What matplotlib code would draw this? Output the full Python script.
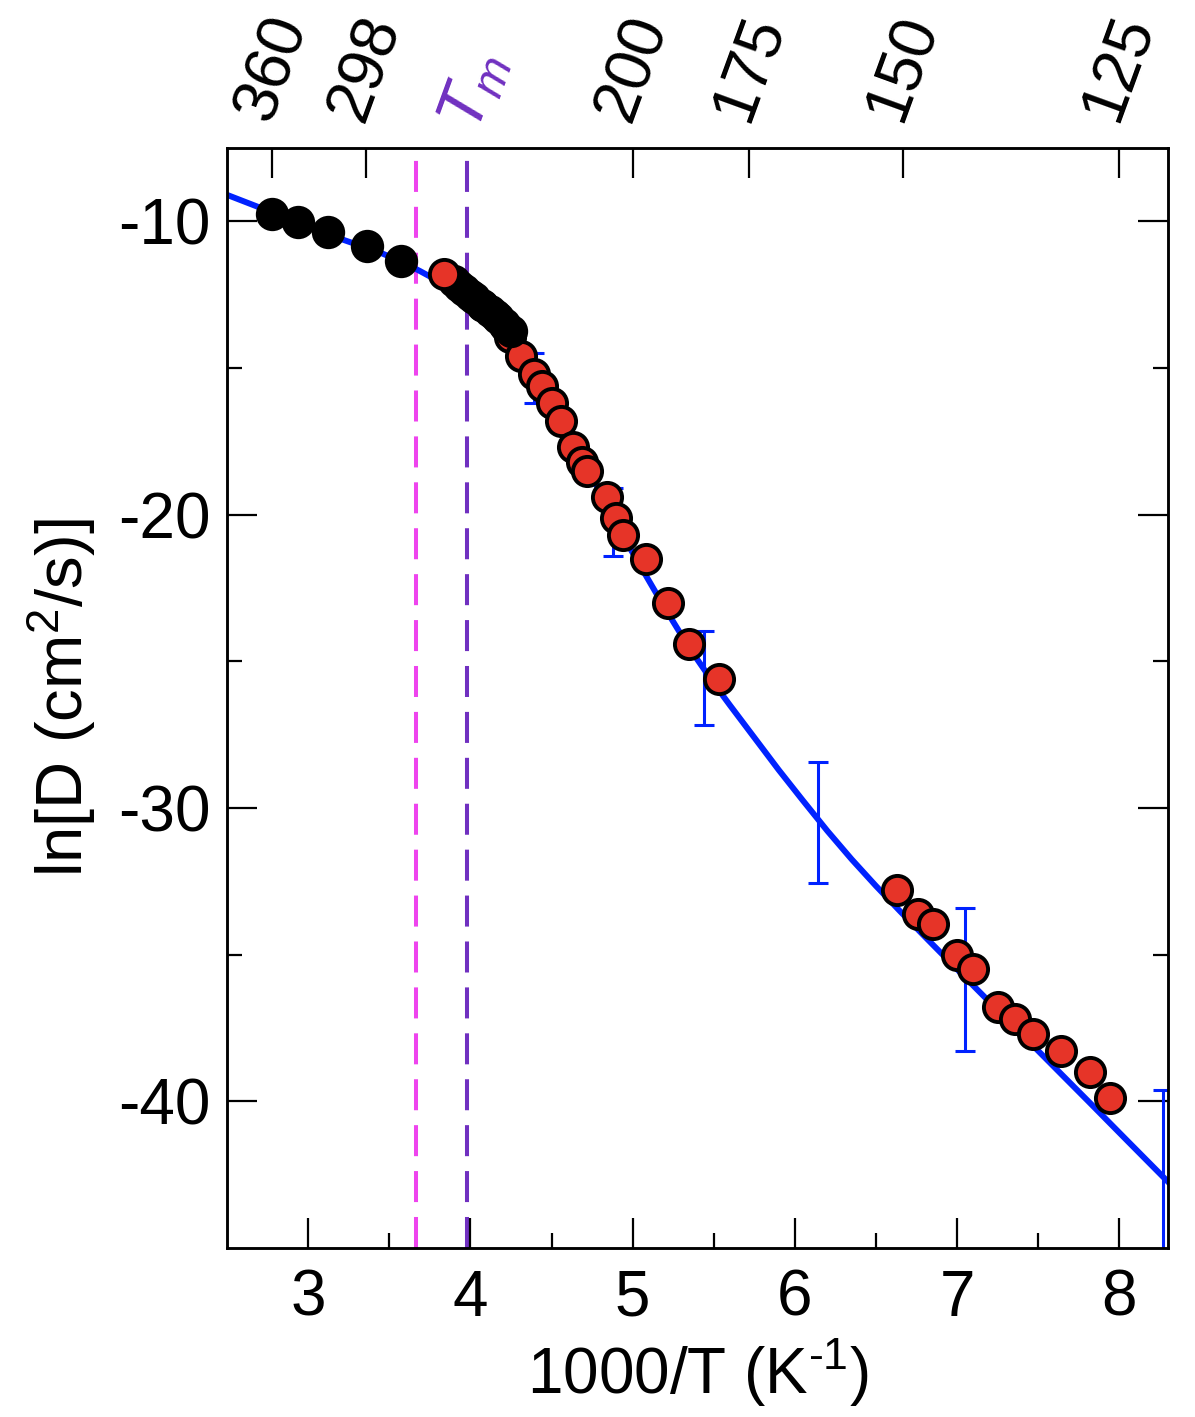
import matplotlib
matplotlib.use("Agg")
import matplotlib.pyplot as plt
from matplotlib.ticker import NullLocator
import numpy as np

plt.rcParams['font.family'] = ['Liberation Sans', 'DejaVu Sans']
plt.rcParams['mathtext.fontset'] = 'custom'
plt.rcParams['mathtext.rm'] = 'Liberation Sans'
plt.rcParams['mathtext.it'] = 'Liberation Sans:italic'
plt.rcParams['axes.unicode_minus'] = False

# fit curve (blue line)
line_x = [2.5, 2.78, 3.0, 3.2, 3.44, 3.57, 3.69, 3.84, 4.0, 4.15, 4.3, 4.45, 4.6,
          4.75, 4.88, 5.0, 5.1, 5.2, 5.3, 5.4, 5.5, 5.6, 5.75, 5.9, 6.05, 6.2,
          6.35, 6.5, 6.65, 6.8, 7.05, 7.3, 7.55, 7.8, 8.05, 8.31]
line_y = [-9.1, -9.7, -10.15, -10.6, -11.06, -11.36, -11.7, -12.15, -12.8, -13.55,
          -14.5, -15.7, -17.1, -18.7, -20.15, -21.3, -22.25, -23.2, -24.1, -24.95,
          -25.75, -26.5, -27.6, -28.7, -29.75, -30.78, -31.75, -32.66, -33.53, -34.38,
          -35.78, -37.17, -38.56, -39.95, -41.35, -42.8]

# error bars on the fit
err_x = [4.39, 4.88, 5.44, 6.14, 7.05, 8.27]
err_y = [-15.35, -20.25, -25.56, -30.5, -35.85, -42.6]
err_e = [0.85, 1.15, 1.6, 2.05, 2.45, 3.0]

# black points
black_x = [2.78, 2.94, 3.12, 3.36, 3.57, 3.90, 3.96, 4.02, 4.07, 4.12, 4.17, 4.21, 4.25]
black_y = [-9.75, -10.03, -10.37, -10.85, -11.36, -12.05, -12.35, -12.6, -12.85,
           -13.05, -13.3, -13.5, -13.75]

# red points
red_x = [3.84, 3.93, 4.00, 4.08, 4.15, 4.22, 4.245, 4.31, 4.39, 4.44, 4.50, 4.56,
         4.63, 4.69, 4.72, 4.84, 4.90, 4.94, 5.08, 5.22, 5.35, 5.53, 6.63, 6.76,
         6.85, 7.00, 7.10, 7.25, 7.36, 7.47, 7.64, 7.82, 7.94]
red_y = [-11.81, -12.2, -12.5, -12.9, -13.2, -13.6, -13.96, -14.6, -15.2, -15.6,
         -16.2, -16.8, -17.7, -18.2, -18.5, -19.4, -20.1, -20.7, -21.5, -23.0,
         -24.4, -25.6, -32.8, -33.6, -33.96, -35.0, -35.5, -36.8, -37.2, -37.7,
         -38.3, -39.0, -39.9]

top_T = [360, 298, 200, 175, 150, 125]
T_273 = 1000 / 273.0
T_m = 3.98

fig = plt.figure(figsize=(11.95, 14.17), dpi=100)
ax = fig.add_axes([0.19, 0.1193, 0.7874, 0.7763])

ax.plot(line_x, line_y, color='#0022ff', lw=4.3, zorder=2)
ax.errorbar(err_x, err_y, yerr=err_e, fmt='none', ecolor='#0022ff', elinewidth=2.2,
            capsize=7, capthick=2.2, zorder=2)

ax.axvline(T_273, color='#ee44ee', lw=2.9, dashes=(7.7, 3.7), zorder=1)
ax.axvline(T_m, color='#7030c0', lw=2.9, dashes=(7.7, 3.7), zorder=1)

ax.plot(red_x[1:], red_y[1:], 'o', ms=21, mfc='#e63428', mec='black', mew=2.8, zorder=3)
ax.plot(black_x, black_y, 'o', ms=24, mfc='black', mec='black', mew=0, zorder=4)
ax.plot(red_x[:1], red_y[:1], 'o', ms=21, mfc='#e63428', mec='black', mew=2.8, zorder=5)

ax.set_xlim(2.5, 8.3)
ax.set_ylim(-45, -7.5)
ax.set_xticks([3, 4, 5, 6, 7, 8])
ax.set_xticks(np.arange(3.5, 8.3, 1.0), minor=True)
ax.set_yticks([-10, -20, -30, -40])
ax.set_yticks([-15, -25, -35], minor=True)

ax.tick_params(which='both', direction='in', width=1.6, labelsize=46)
ax.tick_params(which='major', length=21.5)
ax.tick_params(which='minor', length=11)
ax.tick_params(axis='x', which='both', top=False, pad=15)
ax.tick_params(axis='y', which='both', right=True, pad=12)
for s in ax.spines.values():
    s.set_linewidth(1.8)

ax.set_xlabel(r'1000/T (K$^{\text{-1}}$)', fontsize=46, labelpad=6)
ax.set_ylabel('ln[D (cm$^{2}$/s)]', fontsize=47, labelpad=14)

ax2 = ax.twiny()
ax2.set_xlim(ax.get_xlim())
ax2.set_xticks([1000.0 / t for t in top_T])
ax2.xaxis.set_minor_locator(NullLocator())
ax2.set_xticklabels([str(t) for t in top_T], rotation=70, ha='center', va='bottom')
ax2.tick_params(axis='x', direction='in', length=21.5, width=1.6, labelsize=46, pad=14)
ax.tick_params(axis='x', which='both', top=False)
for s in ax2.spines.values():
    s.set_linewidth(1.8)

ax.text(4.04, -7.05, r'$\mathit{T}_{\mathit{m}}$', color='#7030c0', fontsize=48,
        rotation=70, rotation_mode='anchor', ha='left', va='baseline', clip_on=False)

fig.savefig('out.png', dpi=100)
